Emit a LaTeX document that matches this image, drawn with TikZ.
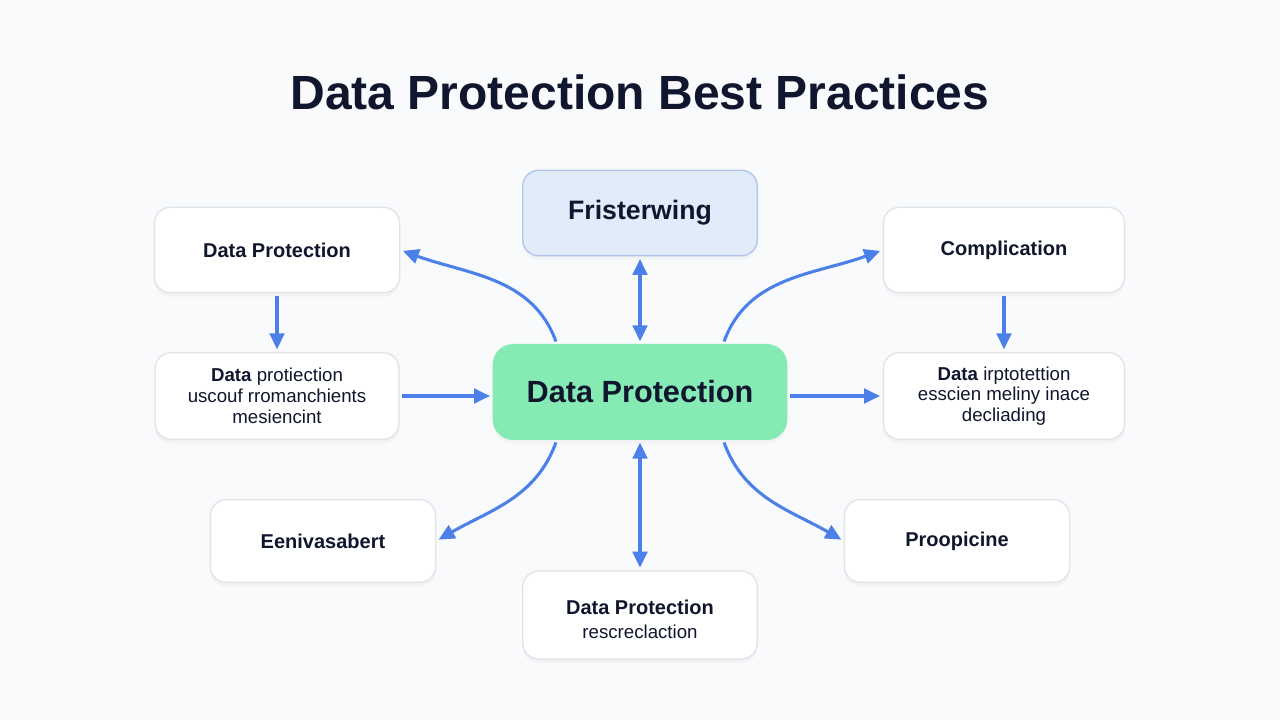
\documentclass[tikz,border=0pt]{standalone}
\usepackage{fontspec}
\setmainfont{Liberation Sans}
\usetikzlibrary{arrows.meta,shadows}

\definecolor{ink}{RGB}{16,22,45}
\definecolor{boxline}{RGB}{224,227,232}
\definecolor{linkblue}{RGB}{74,128,232}
\definecolor{hubfill}{RGB}{134,234,181}
\definecolor{topfill}{RGB}{226,235,250}
\definecolor{topline}{RGB}{178,198,234}
\definecolor{paper}{RGB}{249,250,251}

\begin{document}
\begin{tikzpicture}[x=0.75pt, y=0.75pt, >={Triangle[length=12pt,width=11pt]},
  box/.style={draw=boxline, fill=white, line width=1pt, rounded corners=12pt, inner sep=0pt, align=center, text=ink,
    drop shadow={shadow xshift=0pt, shadow yshift=-3pt, opacity=0.06}},
  link/.style={draw=linkblue, line width=2.3pt, shorten >=2pt, shorten <=2pt}]
\fill[paper] (0,0) rectangle (1280,720);
\useasboundingbox (0,0) rectangle (1280,720);

\node (title) at (640,628) [text=ink, font=\fontsize{36}{40}\selectfont\bfseries] {Data Protection Best Practices};

\node (hub) at (640,328) [box, fill=hubfill, draw=hubfill, rounded corners=15pt, minimum width=220pt, minimum height=71pt, font=\fontsize{23}{26}\selectfont\bfseries] {Data Protection};
\node (top) at (640,507) [box, fill=topfill, draw=topline, minimum width=176pt, minimum height=64pt, font=\fontsize{20}{24}\selectfont\bfseries] {Fristerwing};
\node (tl) at (277,470) [box, minimum width=184pt, minimum height=64pt, font=\fontsize{15}{18}\selectfont\bfseries] {Data Protection};
\node (tr) at (1004,470) [box, minimum width=181pt, minimum height=64pt, font=\fontsize{15}{18}\selectfont\bfseries] {Complication};
\node (ml) at (277,324) [box, minimum width=183pt, minimum height=65pt, font=\fontsize{14}{15.5}\selectfont] {\textbf{Data} protiection\\uscouf rromanchients\\mesiencint};
\node (mr) at (1004,324) [box, minimum width=181pt, minimum height=65pt, font=\fontsize{14}{15.5}\selectfont] {\textbf{Data} irptotettion\\esscien meliny inace\\decliading};
\node (bl) at (323,179) [box, minimum width=169pt, minimum height=62pt, font=\fontsize{15}{18}\selectfont\bfseries] {Eenivasabert};
\node (br) at (957,179) [box, minimum width=169pt, minimum height=62pt, font=\fontsize{15}{18}\selectfont\bfseries] {Proopicine};
\node (bot) at (640,105) [box, minimum width=176pt, minimum height=66pt, font=\fontsize{14}{18}\selectfont] {\rule{0pt}{17pt}\textbf{\fontsize{15}{18}\selectfont Data Protection}\\rescreclaction};

% straight links
\draw[link, ->] (tl) -- (ml);
\draw[link, ->] (tr) -- (mr);
\draw[link, ->] (ml.east) -- (ml.east -| hub.west);
\draw[link, ->] (mr.west -| hub.east) -- (mr.west);
\draw[link, <->] (top) -- (hub);
\draw[link, <->] (hub) -- (bot);

% curved links
\draw[link, ->] (hub.150) to[out=110, in=-20] (tl.east);
\draw[link, ->] (hub.30) to[out=70, in=200] (tr.west);
\draw[link, ->] (hub.210) to[out=-110, in=30] (bl.east);
\draw[link, ->] (hub.-30) to[out=-70, in=150] (br.west);
\end{tikzpicture}
\end{document}
